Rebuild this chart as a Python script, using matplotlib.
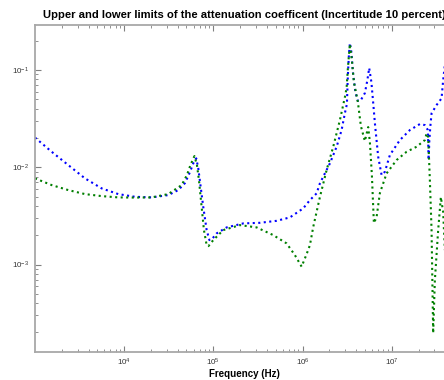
import matplotlib
matplotlib.use("Agg")
import matplotlib.pyplot as plt

plt.rcParams["font.family"] = ["Liberation Sans", "DejaVu Sans"]
plt.rcParams["mathtext.fontset"] = "custom"
plt.rcParams["mathtext.rm"] = "Liberation Sans"
plt.rcParams["mathtext.it"] = "Liberation Sans:italic"
plt.rcParams["mathtext.bf"] = "Liberation Sans:bold"
plt.rcParams["axes.unicode_minus"] = False

# upper limit (blue)
f_upper = [1000, 1539, 2362, 3636, 5595, 8588, 13220, 20340, 31220, 40420,
           48040, 54660, 59530, 64330, 67730, 71680, 77070, 84130, 90430, 96450,
           108900, 141000, 216400, 333000, 512400, 722300, 1.018e6, 1.211e6, 1.439e6, 1.567e6,
           2.029e6, 2.412e6, 2.744e6, 2.988e6, 3.147e6, 3.228e6, 3.313e6, 3.399e6, 3.533e6, 3.673e6,
           3.918e6, 4.179e6, 4.515e6, 5.006e6, 5.340e6, 5.595e6, 5.921e6, 6.235e6, 6.481e6, 7.059e6,
           7.707e6, 8.391e6, 9.546e6, 1.236e7, 1.600e7, 2.071e7, 2.356e7, 2.546e7, 2.599e7, 2.646e7,
           2.716e7, 2.801e7, 3.188e7, 3.627e7, 3.780e7, 3.949e7, 4.266e7]
a_upper = [0.02021, 0.01443, 0.01053, 0.007687, 0.006066, 0.005300, 0.004970, 0.004900, 0.005176, 0.005827,
           0.006877, 0.008925, 0.01097, 0.01235, 0.009812, 0.006559, 0.003924, 0.002259, 0.001782, 0.001825,
           0.002089, 0.002408, 0.002647, 0.002685, 0.002815, 0.003051, 0.003778, 0.004597, 0.005388, 0.006829,
           0.01097, 0.01625, 0.02414, 0.03610, 0.04468, 0.08883, 0.1427, 0.1896, 0.1532, 0.09537,
           0.05937, 0.04798, 0.04913, 0.05798, 0.07890, 0.1049, 0.07525, 0.04364, 0.02849, 0.01282,
           0.008314, 0.008990, 0.01336, 0.01905, 0.02414, 0.02783, 0.02717, 0.02414, 0.01186, 0.01905,
           0.02653, 0.03585, 0.04364, 0.05115, 0.0789, 0.1126, 0.1808]

# lower limit (green)
f_lower = [1000, 1539, 2362, 3636, 5595, 8588, 13220, 20340, 31220, 44120,
           50580, 55370, 61400, 65500, 68970, 73560, 78460, 84130, 88130, 99750,
           129100, 198700, 305800, 469400, 663300, 821800, 977000, 1.112e6, 1.211e6, 1.318e6,
           1.567e6, 1.863e6, 2.210e6, 2.627e6, 2.988e6, 3.122e6, 3.228e6, 3.399e6, 3.579e6, 3.769e6,
           4.179e6, 4.515e6, 5.006e6, 5.452e6, 5.696e6, 5.998e6, 6.316e6, 6.773e6, 7.375e6, 8.768e6,
           1.135e7, 1.469e7, 1.901e7, 2.356e7, 2.462e7, 2.566e7, 2.681e7, 2.801e7, 2.920e7, 3.051e7,
           3.322e7, 3.562e7, 3.780e7, 3.949e7]
a_lower = [0.007687, 0.006559, 0.005827, 0.005300, 0.005053, 0.004900, 0.004879, 0.004900, 0.005300, 0.006559,
           0.008314, 0.01053, 0.01304, 0.01053, 0.007385, 0.004084, 0.002259, 0.001583, 0.001546, 0.001782,
           0.002259, 0.002543, 0.002408, 0.002007, 0.001649, 0.001249, 0.0009515, 0.001279, 0.001583, 0.002425,
           0.004937, 0.009358, 0.01625, 0.03059, 0.05275, 0.06529, 0.1049, 0.1852, 0.1268, 0.07525,
           0.04689, 0.02653, 0.01861, 0.02592, 0.01817, 0.008314, 0.002666, 0.003072, 0.005427, 0.008655,
           0.01186, 0.01443, 0.01625, 0.01905, 0.02232, 0.02045, 0.007385, 0.002259, 0.0001968, 0.0006912,
           0.002259, 0.004937, 0.003459, 0.001406]

x_ticks = [1e4, 1e5, 1e6, 1e7]
y_ticks = [1e-3, 1e-2, 1e-1]

fig = plt.figure(figsize=(4.44, 3.80), dpi=100)
ax = fig.add_axes([35 / 444, 28 / 380, 419 / 444, 327.5 / 380])

ax.loglog(f_upper, a_upper, linestyle=":", color="#0000ff", linewidth=1.5)
ax.loglog(f_lower, a_lower, linestyle=":", color="#007f00", linewidth=1.5)

ax.set_xlim(1e3, 5e7)
ax.set_ylim(1.26e-4, 0.294)
ax.set_xticks(x_ticks)
ax.set_yticks(y_ticks)

for s in ax.spines.values():
    s.set_color("#a8a8a8")
    s.set_linewidth(1.3)
ax.tick_params(which="both", direction="in", top=True, right=True,
               colors="#808080", labelcolor="#333333", labelsize=5.8)
ax.tick_params(which="major", length=4, width=0.8)
ax.tick_params(which="minor", length=2.5, width=0.6)
ax.tick_params(axis="y", pad=4)
ax.tick_params(axis="x", pad=3.5)

ax.set_xlabel("Frequency (Hz)", fontsize=7, fontweight="bold", labelpad=0.5)
ax.set_title("Upper and lower limits of the attenuation coefficent (Incertitude 10 percent)",
             fontsize=8.15, fontweight="bold", pad=5)

fig.savefig("out.png", dpi=100)
